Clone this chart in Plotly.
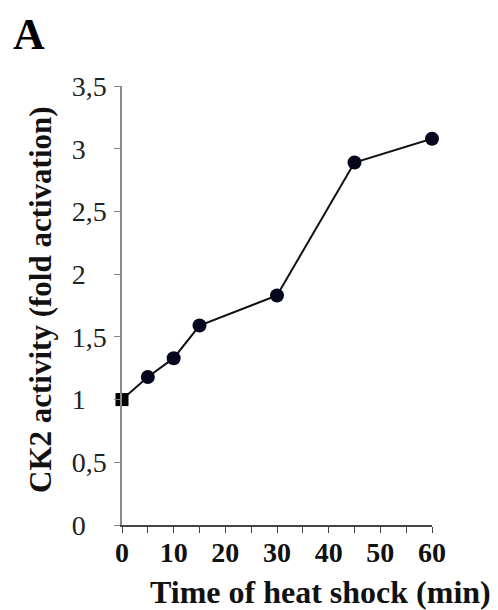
import plotly.graph_objects as go

# Data
time_min = [0, 5, 10, 15, 30, 45, 60]
ck2_activity = [1.0, 1.18, 1.33, 1.59, 1.83, 2.89, 3.08]

y_tick_vals = [0, 0.5, 1, 1.5, 2, 2.5, 3, 3.5]
y_tick_text = ["0", "0,5", "1", "1,5", "2", "2,5", "3", "3,5"]
x_tick_vals = [0, 10, 20, 30, 40, 50, 60]
x_tick_text = ["0", "10", "20", "30", "40", "50", "60"]

panel_label = "A"
x_title = "Time of heat shock (min)"
y_title = "CK2 activity (fold activation)"

SERIF = "Liberation Serif, Times New Roman, serif"

# pad integer labels so they are left-aligned like the reference
pad = "\u2008\u2007"
y_tick_text_padded = [t if "," in t else t + pad for t in y_tick_text]

marker_symbols = ["square"] + ["circle"] * (len(time_min) - 1)
marker_colors = ["#000000"] + ["#06061c"] * (len(time_min) - 1)
marker_sizes = [13] + [14] * (len(time_min) - 1)

# page body has an 8px margin: place plot area so it lands at the reference pixels
OFF = 8
L, R, T, B = 122 - OFF, 498 - 432 + OFF, 86 - OFF, 610 - 525 + OFF
PW = 498 - L - R
PH = 610 - T - B


def px_x(px):
    return (px - OFF - L) / PW


def px_y(py):
    return (610 - B - (py - OFF)) / PH


fig = go.Figure()
fig.add_trace(go.Scatter(
    x=time_min, y=ck2_activity, mode="lines+markers",
    line=dict(color="#111111", width=2),
    marker=dict(symbol=marker_symbols, color=marker_colors, size=marker_sizes,
                opacity=1, line=dict(width=0)),
    cliponaxis=False, showlegend=False,
))

fig.update_layout(
    width=498, height=610, autosize=False,
    margin=dict(l=L, r=R, t=T, b=B),
    plot_bgcolor="white", paper_bgcolor="white",
    font=dict(family=SERIF, color="#111111"),
)

fig.update_xaxes(
    range=[0, 60], tickvals=x_tick_vals, ticktext=x_tick_text,
    ticks="outside", ticklen=6, tickwidth=1.2, tickcolor="#444444",
    minor=dict(dtick=5, tick0=0, ticks="outside", ticklen=6, tickwidth=1.2, tickcolor="#444444"),
    showline=True, linecolor="#444444", linewidth=1.5,
    showgrid=False, zeroline=False,
    tickfont=dict(family=SERIF, size=28, color="#111111", weight="bold"),
    ticklabelstandoff=-4,
)
fig.update_yaxes(
    range=[0, 3.5], tickvals=y_tick_vals, ticktext=y_tick_text_padded,
    ticks="outside", ticklen=6, tickwidth=1.2, tickcolor="#888888",
    showline=True, linecolor="#8a8a8a", linewidth=1.5,
    showgrid=False, zeroline=False,
    tickfont=dict(family=SERIF, size=28, color="#222222"),
    ticklabelstandoff=2,
)

fig.add_annotation(
    text=panel_label, xref="paper", yref="paper",
    x=px_x(12), y=px_y(OFF + 1), xanchor="left", yanchor="top", borderpad=0,
    showarrow=False, font=dict(family=SERIF, size=44, color="#000000", weight="bold"),
)
fig.add_annotation(
    text=x_title, xref="paper", yref="paper",
    x=px_x(320), y=px_y(592), xanchor="center", yanchor="middle",
    showarrow=False, font=dict(family=SERIF, size=32, color="#111111", weight="bold"),
)
fig.add_annotation(
    text=y_title, xref="paper", yref="paper", textangle=-90,
    x=px_x(40), y=px_y(300), xanchor="center", yanchor="middle",
    showarrow=False, font=dict(family=SERIF, size=31, color="#111111", weight="bold"),
)

fig.write_html("out.html")
